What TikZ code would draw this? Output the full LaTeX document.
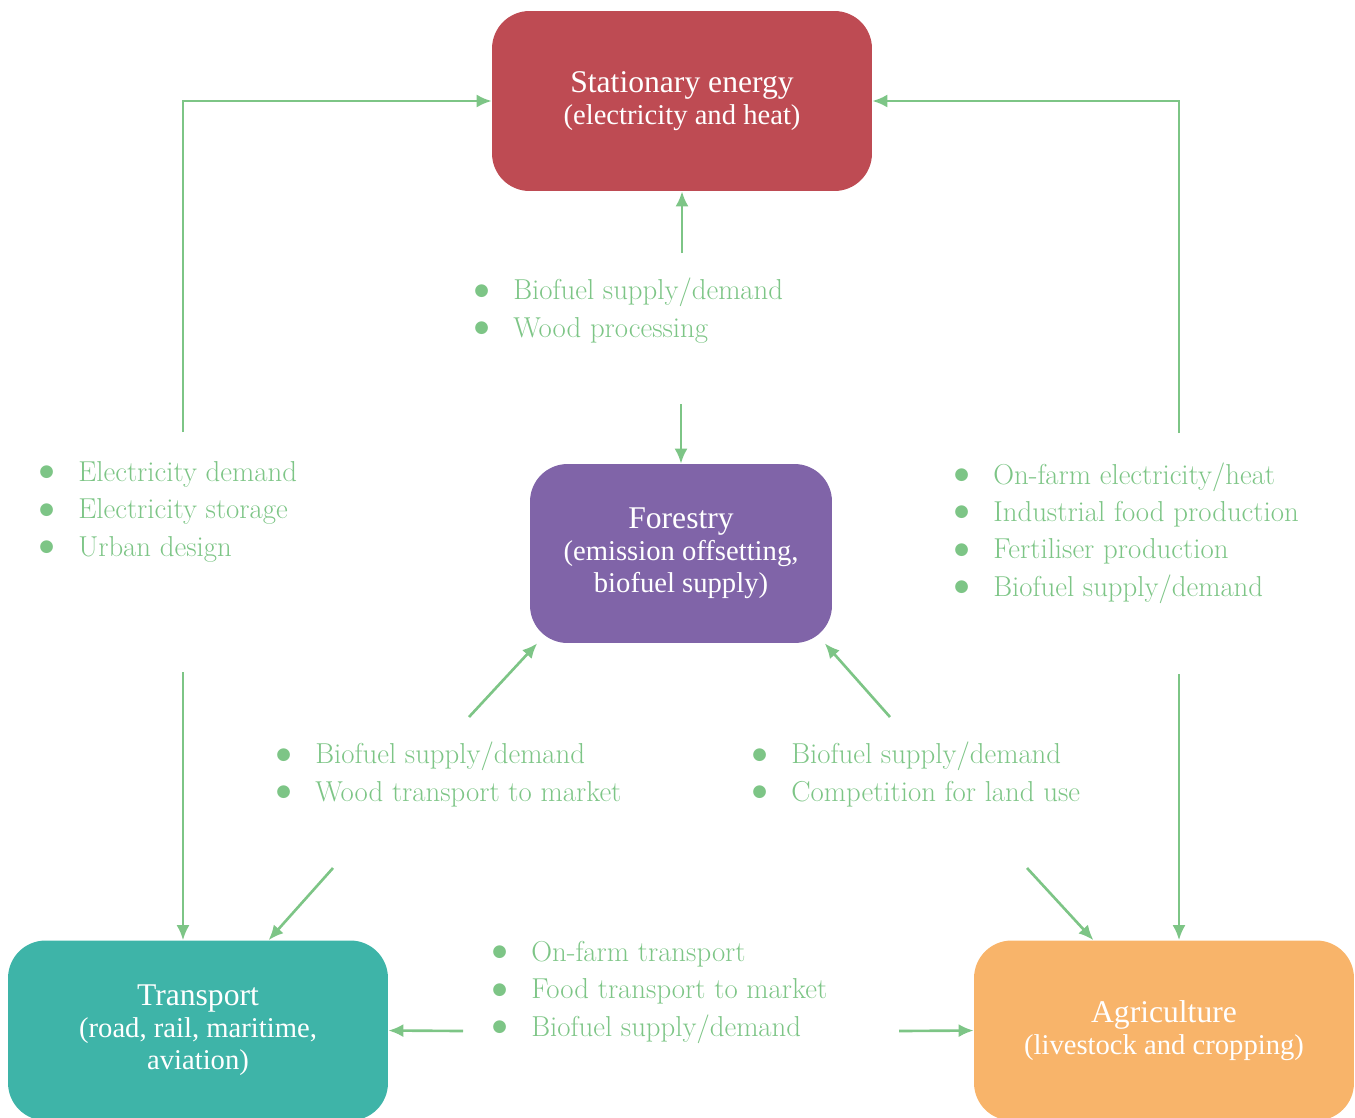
\documentclass[tikz,border=0pt]{standalone}
\usepackage{fontspec}
\newfontfamily\boxfont{Liberation Serif}
\newfontfamily\dotfont{DejaVu Sans}
\usetikzlibrary{arrows.meta}
\definecolor{energyred}{RGB}{190, 75, 83}
\definecolor{forestpurple}{RGB}{128, 100, 168}
\definecolor{transteal}{RGB}{62, 180, 168}
\definecolor{agriorange}{RGB}{248, 180, 106}
\definecolor{linkgreen}{RGB}{125, 197, 134}
\newcommand{\itm}{\llap{\raisebox{2.6pt}{\dotfont\fontsize{9.5}{9.5}\selectfont ●}\hspace{0.49cm}}}
\newcommand{\hd}[1]{{\fontsize{18}{18.3}\selectfont #1}}
\tikzset{
  sector/.style={rounded corners=0.75cm, text=white, align=center, inner sep=0pt,
                 font=\boxfont\fontsize{16.3}{18.3}\selectfont},
  bigsector/.style={sector, minimum width=7.6cm, minimum height=3.6cm},
  links/.style={text=linkgreen, align=left, inner sep=0pt, anchor=base west,
                font=\fontsize{16.4}{21.2}\selectfont},
  flow/.style={draw=linkgreen, line width=1.5pt, -{Latex[length=0.3cm, width=0.26cm]}},
}

\begin{document}
\begin{tikzpicture}[x=0.02cm, y=-0.02cm]
  \useasboundingbox (0,0) rectangle (1355,1117);
  %--- sectors ---------------------------------------------------------------
  \node[bigsector, fill=energyred] (stat) at (682,101)
    {\hd{Stationary energy}\\(electricity and heat)};
  \node[sector, fill=forestpurple, minimum width=6.04cm, minimum height=3.58cm]
    (frst) at (681,553.5) {\hd{Forestry}\\(emission offsetting,\\biofuel supply)};
  \node[bigsector, fill=transteal] (trans) at (198,1030.5)
    {\hd{Transport}\\(road, rail, maritime,\\aviation)};
  \node[bigsector, fill=agriorange] (agri) at (1164,1030.5)
    {\hd{Agriculture}\\(livestock and cropping)};
  %--- interactions (anchored at the last line) ------------------------------
  \node[links] (lsf) at (513,337)
    {\itm Biofuel supply/demand\\\itm Wood processing};
  \node[links] (lst) at (78,556)
    {\itm Electricity demand\\\itm Electricity storage\\\itm Urban design};
  \node[links] (lsa) at (993,596)
    {\itm On-farm electricity/heat\\\itm Industrial food production\\
     \itm Fertiliser production\\\itm Biofuel supply/demand};
  \node[links] (lft) at (315,801)
    {\itm Biofuel supply/demand\\\itm Wood transport to market};
  \node[links] (lfa) at (791,801)
    {\itm Biofuel supply/demand\\\itm Competition for land use};
  \node[links] (lta) at (531,1036)
    {\itm On-farm transport\\\itm Food transport to market\\\itm Biofuel supply/demand};
  %--- arrow tails -----------------------------------------------------------
  \coordinate (eup) at (183,432);
  \coordinate (edown) at (183,672);
  \coordinate (aup) at (1179,433);
  \coordinate (adown) at (1179,674);
  \coordinate (fup) at (682,253);
  \coordinate (fdown) at (681,404);
  \coordinate (tfup) at (469,717);
  \coordinate (tfdown) at (333,868);
  \coordinate (afup) at (890,717);
  \coordinate (afdown) at (1027,868);
  \coordinate (taleft) at (463,1031);
  \coordinate (taright) at (899,1031);
  %--- arrows ----------------------------------------------------------------
  \draw[flow] (eup) |- (stat.west);
  \draw[flow] (aup) |- (stat.east);
  \draw[flow] (fup) -- (stat.south);
  \draw[flow] (fdown) -- (frst.north);
  \draw[flow] (tfup) -- (frst.212);
  \draw[flow] (afup) -- (frst.-32);
  \draw[flow] (tfdown) -- (trans.52);
  \draw[flow] (afdown) -- (agri.128);
  \draw[flow] (edown) -- (edown |- trans.north);
  \draw[flow] (adown) -- (adown |- agri.north);
  \draw[flow] (taleft) -- (trans.east);
  \draw[flow] (taright) -- (agri.west);
\end{tikzpicture}
\end{document}
